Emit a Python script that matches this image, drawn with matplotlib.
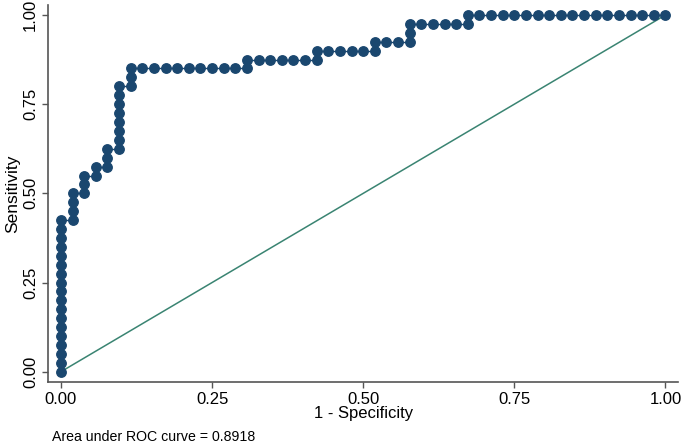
import matplotlib
matplotlib.use("Agg")
import matplotlib.pyplot as plt

# ROC data: counts of false positives (out of 52 negatives) and true positives (out of 40 positives)
n_neg = 52
n_pos = 40
fp_counts = [0]*18 + [1]*4 + [2]*3 + [3]*2 + [4]*3 + [5]*8 + [6]*3 + \
    [7, 8, 9, 10, 11, 12, 13, 14, 15, 16, 16, 17, 18, 19, 20, 21, 22, 22,
     23, 24, 25, 26, 27, 27, 28, 29, 30, 30, 30, 31, 32, 33, 34, 35, 35] + \
    list(range(36, 53))
tp_counts = list(range(0, 18)) + [17, 18, 19, 20] + [20, 21, 22] + [22, 23] + \
    [23, 24, 25] + list(range(25, 33)) + [32, 33, 34] + \
    [34]*9 + [34, 35] + [35]*5 + [35, 36] + [36]*4 + [36, 37] + [37]*2 + \
    [37, 38, 39] + [39]*4 + [39, 40] + [40]*17
fpr = [c / n_neg for c in fp_counts]
tpr = [c / n_pos for c in tp_counts]
ref_x = [0, 1]
ref_y = [0, 1]
ticks = [0.0, 0.25, 0.5, 0.75, 1.0]
tick_labels = ["0.00", "0.25", "0.50", "0.75", "1.00"]
auc_text = "Area under ROC curve = 0.8918"

plt.rcParams['font.family'] = ['Liberation Sans', 'DejaVu Sans']

W, H = 682, 446
fig = plt.figure(figsize=(W/100, H/100), dpi=100)
l, r, t, b = 48.3, 678, 5, 382
ax = fig.add_axes([l/W, 1 - b/H, (r - l)/W, (b - t)/H])

navy = '#1a476f'
teal = '#3a8472'
ax.plot(fpr, tpr, color=navy, lw=1.0, marker='o', ms=6.8, mec=navy, mfc=navy, zorder=3)
ax.plot(ref_x, ref_y, color=teal, lw=1.1, zorder=2)

ax.set_xlim(-0.021, 1.0207)
ax.set_ylim(-0.0289, 1.028)
ax.set_xticks(ticks)
ax.set_xticklabels(tick_labels)
ax.set_yticks(ticks)
ax.set_yticklabels(tick_labels, rotation=90, va='center')
for s in ['top', 'right']:
    ax.spines[s].set_visible(False)
for s in ['left', 'bottom']:
    ax.spines[s].set_color('#555555')
    ax.spines[s].set_linewidth(1.2)
ax.tick_params(direction='out', length=4.5, width=1.0, color='#555555',
               labelsize=12, pad=3)
ax.set_xlabel("1 - Specificity", fontsize=12, labelpad=-1)
ax.set_ylabel("Sensitivity", fontsize=12.5, labelpad=2)
fig.text(52/W, 1 - 437/H, auc_text, fontsize=10.2, va='center', ha='left')

fig.savefig("out.png", dpi=100)
